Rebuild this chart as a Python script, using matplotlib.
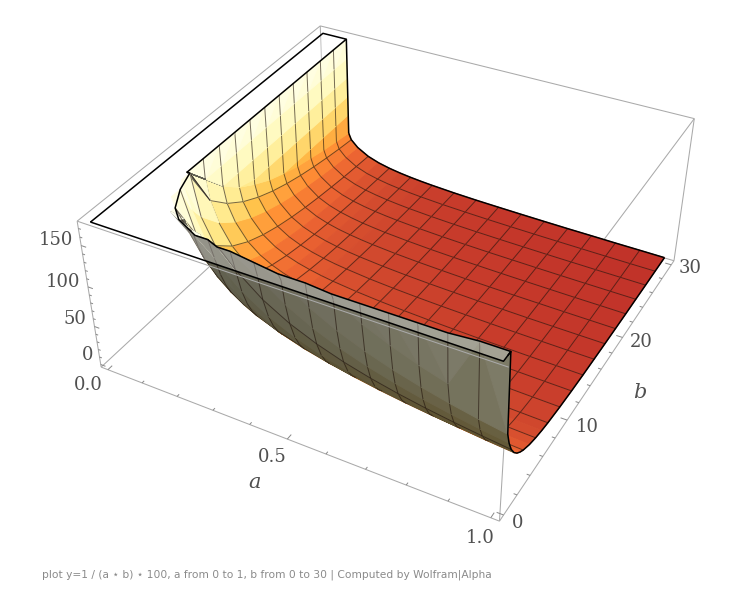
import numpy as np
import matplotlib
matplotlib.use("Agg")
import matplotlib.pyplot as plt
from matplotlib.colors import LinearSegmentedColormap
from mpl_toolkits.mplot3d.art3d import Poly3DCollection, Line3DCollection

# box limits of the plot
a_lim = [-0.02, 1.02]
b_lim = [-0.6, 30.6]
z_lim = [-3.5, 178.5]
z_clip = 175

# box corners as they sit in the picture, pixels from the top left
corner_ids = [(0, 0, 0), (1, 0, 0), (1, 1, 0), (0, 1, 0), (0, 0, 1), (1, 0, 1), (1, 1, 1), (0, 1, 1)]
corner_px = [(100.7, 365), (501.7, 521.7), (675, 258), (323, 163), (77.5, 221.7), (506.5, 368.5), (693, 120), (322.7, 23.3)]

# surface heights, one row per a value, one column per b value
a_vals = [0.0716, 0.0717, 0.0718, 0.0719, 0.0720, 0.0721, 0.08, 0.1, 0.1333, 0.1667, 0.2, 0.2333, 0.2667, 0.3, 0.3333,
          0.4, 0.4667, 0.5333, 0.6, 0.6667, 0.7333, 0.8, 0.8667, 0.9333, 1.0]
b_vals = [0.57, 0.8, 1, 1.3, 1.6, 2, 2.5, 3, 3.5, 4, 5, 6, 7, 8, 10, 12, 14, 16, 18, 20, 22, 24, 26, 28, 30]
T = 175
z_vals = [
    [T, T, T, T, T, T, T, T, T, T, T, T, T, T, T, T, T, T, T, T, T, T, T, T, T],
    [T, T, T, T, T, T, T, T, T, T, T, T, T, T, 150, 150, 150, 150, 150, 150, 150, 150, 150, 150, 150],
    [T, T, T, T, T, T, T, T, T, T, T, T, T, T, 150, 125, 125, 125, 125, 125, 125, 125, 125, 125, 125],
    [T, T, T, T, T, T, T, T, T, T, T, T, T, T, 150, 125, 107, 100, 100, 100, 100, 100, 100, 100, 100],
    [T, T, T, T, T, T, T, T, T, T, T, T, T, T, 150, 125, 107, 94, 83, 75, 75, 75, 75, 75, 75],
    [T, T, T, T, T, T, T, T, T, T, T, T, T, T, 150, 125, 107, 94, 83, 75, 68, 63, 58, 54, 50],
    [T, T, T, T, T, T, T, T, T, T, T, T, T, T, 125, 104.2, 89.3, 78.1, 69.4, 62.5, 56.8, 52.1, 48.1, 44.6, 41.7],
    [T, T, T, T, T, T, T, T, T, T, T, T, 142.9, 125, 100, 83.3, 71.4, 62.5, 55.6, 50, 45.5, 41.7, 38.5, 35.7, 33.3],
    [T, T, T, T, T, T, T, T, T, T, 150, 125, 107.1, 93.8, 75, 62.5, 53.6, 46.9, 41.7, 37.5, 34.1, 31.3, 28.8, 26.8, 25],
    [T, T, T, T, T, T, T, T, 171.4, 150, 120, 100, 85.7, 75, 60, 50, 42.9, 37.5, 33.3, 30, 27.3, 25, 23.1, 21.4, 20],
    [T, T, T, T, T, T, T, 166.7, 142.9, 125, 100, 83.3, 71.4, 62.5, 50, 41.7, 35.7, 31.3, 27.8, 25, 22.7, 20.8, 19.2, 17.9, 16.7],
    [T, T, T, T, T, T, 171.4, 142.9, 122.4, 107.1, 85.7, 71.4, 61.2, 53.6, 42.9, 35.7, 30.6, 26.8, 23.8, 21.4, 19.5, 17.9, 16.5, 15.3, 14.3],
    [T, T, T, T, T, T, 150, 125, 107.1, 93.8, 75, 62.5, 53.6, 46.9, 37.5, 31.3, 26.8, 23.4, 20.8, 18.8, 17, 15.6, 14.4, 13.4, 12.5],
    [T, T, T, T, T, 166.7, 133.3, 111.1, 95.2, 83.3, 66.7, 55.6, 47.6, 41.7, 33.3, 27.8, 23.8, 20.8, 18.5, 16.7, 15.2, 13.9, 12.8, 11.9, 11.1],
    [T, T, T, T, T, 150, 120, 100, 85.7, 75, 60, 50, 42.9, 37.5, 30, 25, 21.4, 18.8, 16.7, 15, 13.6, 12.5, 11.5, 10.7, 10],
    [T, T, T, T, 156.3, 125, 100, 83.3, 71.4, 62.5, 50, 41.7, 35.7, 31.3, 25, 20.8, 17.9, 15.6, 13.9, 12.5, 11.4, 10.4, 9.6, 8.9, 8.3],
    [T, T, T, 164.8, 133.9, 107.1, 85.7, 71.4, 61.2, 53.6, 42.9, 35.7, 30.6, 26.8, 21.4, 17.9, 15.3, 13.4, 11.9, 10.7, 9.7, 8.9, 8.2, 7.7, 7.1],
    [T, T, T, 144.2, 117.2, 93.8, 75, 62.5, 53.6, 46.9, 37.5, 31.3, 26.8, 23.4, 18.8, 15.6, 13.4, 11.7, 10.4, 9.4, 8.5, 7.8, 7.2, 6.7, 6.3],
    [T, T, 166.7, 128.2, 104.2, 83.3, 66.7, 55.6, 47.6, 41.7, 33.3, 27.8, 23.8, 20.8, 16.7, 13.9, 11.9, 10.4, 9.3, 8.3, 7.6, 6.9, 6.4, 6, 5.6],
    [T, T, 150, 115.4, 93.8, 75, 60, 50, 42.9, 37.5, 30, 25, 21.4, 18.8, 15, 12.5, 10.7, 9.4, 8.3, 7.5, 6.8, 6.3, 5.8, 5.4, 5],
    [T, T, 136.4, 104.9, 85.3, 68.2, 54.6, 45.5, 39, 34.1, 27.3, 22.7, 19.5, 17.1, 13.6, 11.4, 9.7, 8.5, 7.6, 6.8, 6.2, 5.7, 5.2, 4.9, 4.5],
    [T, T, 125, 96.2, 78.1, 62.5, 50, 41.7, 35.7, 31.3, 25, 20.8, 17.9, 15.6, 12.5, 10.4, 8.9, 7.8, 6.9, 6.3, 5.7, 5.2, 4.8, 4.5, 4.2],
    [T, T, 115.4, 88.8, 72.1, 57.7, 46.2, 38.5, 33, 28.8, 23.1, 19.2, 16.5, 14.4, 11.5, 9.6, 8.2, 7.2, 6.4, 5.8, 5.2, 4.8, 4.4, 4.1, 3.8],
    [T, T, T, 82.4, 66.9, 53.6, 42.8, 35.7, 30.6, 26.8, 21.4, 17.9, 15.3, 13.4, 10.7, 8.9, 7.7, 6.7, 6, 5.4, 4.9, 4.5, 4.1, 3.8, 3.6],
    [T, T, T, 76.9, 62.5, 50, 40, 33.3, 28.6, 25, 20, 16.7, 14.3, 12.5, 10, 8.3, 7.1, 6.3, 5.6, 5, 4.5, 4.2, 3.8, 3.6, 3.3],
]

# rows and columns of the table that carry a mesh line
mesh_rows = [6, 8, 10, 12, 14, 15, 16, 17, 18, 19, 20, 21, 22, 23]
mesh_cols = [5, 9, 11, 13, 14, 15, 16, 17, 18, 19, 20, 21, 22, 23]

# axis ticks
a_major = [0.0, 0.5, 1.0]
a_minor = [0.1, 0.2, 0.3, 0.4, 0.6, 0.7, 0.8, 0.9]
b_major = [0, 10, 20, 30]
b_minor = [2, 4, 6, 8, 12, 14, 16, 18, 22, 24, 26, 28]
z_major = [0, 50, 100, 150]
z_minor = [10, 20, 30, 40, 60, 70, 80, 90, 110, 120, 130, 140, 160, 170]

# colours against height
top_z = [0, 15, 30, 50, 75, 100, 140, 175]
top_rgb = ["#bc2c28", "#d24a2e", "#ec6432", "#ff8e34", "#ffc24a", "#ffe98a", "#fffbc4", "#ffffea"]
under_z = [0, 30, 60, 110, 175]
under_rgb = ["#4e3c1a", "#564722", "#605636", "#72705a", "#7e7c6c"]

W, H = 744, 612


def fit_camera():
    # 3x4 camera matrix from the eight corners, box coordinates -> pixels
    rows = []
    for (i, j, k), (u, v) in zip(corner_ids, corner_px):
        u, v = u / W, v / H
        X = [i, j, k, 1]
        rows.append(X + [0, 0, 0, 0] + [-u * c for c in X])
        rows.append([0, 0, 0, 0] + X + [-v * c for c in X])
    P = np.linalg.svd(np.array(rows))[2][-1].reshape(3, 4)
    if P[2] @ np.array([0.5, 0.5, 0.5, 1]) < 0:
        P = -P
    P = np.diag([W, H, 1.0]) @ P
    scale = np.array([[1 / (a_lim[1] - a_lim[0]), 0, 0, -a_lim[0] / (a_lim[1] - a_lim[0])],
                      [0, 1 / (b_lim[1] - b_lim[0]), 0, -b_lim[0] / (b_lim[1] - b_lim[0])],
                      [0, 0, 1 / (z_lim[1] - z_lim[0]), -z_lim[0] / (z_lim[1] - z_lim[0])],
                      [0, 0, 0, 1]])
    return P @ scale


P = fit_camera()
# camera position, used to pull the mesh lines a little towards the viewer
camera = np.linalg.svd(P)[2][-1]
camera = camera[:3] / camera[3]


def to_px(p):
    v = P @ np.array([p[0], p[1], p[2], 1.0])
    return v[:2] / v[2]


fig = plt.figure(figsize=(W / 100, H / 100), dpi=100)
# Axes3D keeps its box square, so make it a square that overhangs the figure
ax = fig.add_axes([0, (H - W) / 2 / H, 1, W / H], projection="3d")
ax.set_axis_off()
ax.computed_zorder = False


def get_proj():
    # pixels -> the 2d coordinates of the axes, then depth grows with distance
    inv = ax.transData.inverted()
    o = inv.transform((0, H))
    x1 = inv.transform((1, H))
    y1 = inv.transform((0, H - 1))
    A = np.array([[x1[0] - o[0], 0, o[0]], [0, y1[1] - o[1], o[1]], [0, 0, 1]])
    top = A @ P
    w = P[2]
    depth = w - np.array([0, 0, 0, w @ np.array([0.5, 15, 80, 1]) * 0.5])
    return np.vstack([top[0], top[1], depth, top[2]])


ax.get_proj = get_proj

a = np.array(a_vals)
b = np.array(b_vals)
z = np.array(z_vals, dtype=float)

top_cmap = LinearSegmentedColormap.from_list("top", [(v / 175, c) for v, c in zip(top_z, top_rgb)])
under_cmap = LinearSegmentedColormap.from_list("under", [(v / 175, c) for v, c in zip(under_z, under_rgb)])

quads = []
colors = []
edge_colors = []


def add_face(pts):
    # which side we look at follows from the winding in the picture
    xy = np.array([to_px(p) for p in pts])
    x, y = xy[:, 0], xy[:, 1]
    area = np.sum(x * np.roll(y, -1) - np.roll(x, -1) * y)
    height = np.mean([p[2] for p in pts])
    if area < 0:
        c = top_cmap(height / 175)
    else:
        r, g, bl, _ = under_cmap(height / 175)
        f = 0.75 + 0.3 * np.mean([p[0] for p in pts])
        c = (r * f, g * f, bl * f, 1)
    quads.append(list(pts) + [pts[-1]] * (4 - len(pts)))
    colors.append(c)
    edge_colors.append(c)


for i in range(len(a) - 1):
    for j in range(len(b) - 1):
        cell = [(a[i], b[j], z[i, j]), (a[i + 1], b[j], z[i + 1, j]), (a[i + 1], b[j + 1], z[i + 1, j + 1]), (a[i], b[j + 1], z[i, j + 1])]
        hs = [p[2] for p in cell]
        n_cut = sum(h >= z_clip for h in hs)
        k = int(np.argmin(hs))
        if n_cut == 4:
            continue
        if n_cut == 3:
            # only the corner below the cut is left of this cell
            add_face([cell[k], cell[(k + 1) % 4], cell[(k + 3) % 4]])
        elif n_cut == 2:
            add_face([cell[k], cell[(k + 1) % 4], cell[(k + 2) % 4]])
            add_face([cell[k], cell[(k + 2) % 4], cell[(k + 3) % 4]])
        else:
            add_face(cell)


def pulled(p, t=0.012):
    p = np.array(p, dtype=float)
    return tuple(p + t * (camera - p))


# mesh lines go in the same collection so the depth sort hides them
mesh_color = (0.13, 0.08, 0.05, 0.62)
for i in mesh_rows:
    for j in range(len(b) - 1):
        if min(z[i, j], z[i, j + 1]) < z_clip:
            p, q = pulled((a[i], b[j], z[i, j])), pulled((a[i], b[j + 1], z[i, j + 1]))
            quads.append([p, q, q, p])
            colors.append((0, 0, 0, 0))
            edge_colors.append(mesh_color)
for j in mesh_cols:
    for i in range(len(a) - 1):
        if min(z[i, j], z[i + 1, j]) < z_clip:
            p, q = pulled((a[i], b[j], z[i, j])), pulled((a[i + 1], b[j], z[i + 1, j]))
            quads.append([p, q, q, p])
            colors.append((0, 0, 0, 0))
            edge_colors.append(mesh_color)

surface = Poly3DCollection(quads, facecolors=colors, edgecolors=edge_colors, linewidths=0.7, zorder=3)
ax.add_collection3d(surface, autolim=False)

# the clipped part at the top of the plot, from the table
clip_a = [a[5]]
clip_b = [b[-1]]
for i in range(5, len(a)):
    j = np.where(z[i] >= z_clip)[0][-1]
    clip_a.append(a[i])
    clip_b.append(b[j])
plane = [(0, 0, z_clip), (0, 30, z_clip)] + [(x, y, z_clip) for x, y in zip(clip_a, clip_b)] + [(1, 0, z_clip)]
ax.add_collection3d(Poly3DCollection([plane], facecolors=(1, 1, 1, 0.3), edgecolors="none", zorder=4), autolim=False)


def draw_lines(lines, color, lw, zorder):
    ax.add_collection3d(Line3DCollection(lines, colors=color, linewidths=lw, zorder=zorder), autolim=False)


# black outlines
draw_lines([
    plane + [plane[0]],
    [(x, 30, h) for x, h in zip(a[5:], z[5:, -1])],
    [(1, y, h) for y, h in zip(b, z[-1])],
    [(a[5], 30, z_clip), (a[5], 30, z[5, -1])],
], "black", 1.1, 5)

a0, a1 = a_lim
b0, b1 = b_lim
z0, z1 = z_lim
box_color = "#aaaaaa"
# behind the surface
draw_lines([
    [(a0, b0, z0), (a0, b1, z0)],
    [(a0, b1, z0), (a1, b1, z0)],
    [(a0, b1, z0), (a0, b1, z1)],
    [(a1, b0, z0), (a1, b0, z1)],
    [(a1, b1, z1), (a1, b0, z1)],
], box_color, 0.75, 1)
# in front of it
draw_lines([
    [(a0, b0, z0), (a1, b0, z0)],
    [(a1, b0, z0), (a1, b1, z0)],
    [(a1, b1, z0), (a1, b1, z1)],
    [(a0, b0, z0), (a0, b0, z1)],
    [(a0, b0, z1), (a0, b1, z1)],
    [(a0, b1, z1), (a1, b1, z1)],
    [(a1, b0, z1), (a0, b0, z1)],
], box_color, 0.75, 6)

ticks = []
for t, ln in [(t, 0.5) for t in a_major] + [(t, 0.25) for t in a_minor]:
    ticks.append([(t, b0, z0), (t, b0 + ln, z0)])
for t, ln in [(t, 0.016) for t in b_major] + [(t, 0.008) for t in b_minor]:
    ticks.append([(a1, t, z0), (a1 - ln, t, z0)])
for t, ln in [(t, 0.014) for t in z_major] + [(t, 0.007) for t in z_minor]:
    ticks.append([(a0, b0, t), (a0 + ln, b0, t)])
draw_lines(ticks, "#888888", 0.7, 6)


def label(x, y, s, ha="center", **kw):
    fig.text(x / W, 1 - y / H, s, ha=ha, va="center", family="DejaVu Serif", color="#505050", **kw)


for x, y, s in [(88, 385, "0.0"), (272, 457, "0.5"), (480, 538, "1.0"),
                (518, 523, "0"), (587, 427, "10"), (641, 342, "20"), (690, 268, "30")]:
    label(x, y, s, size=13)
for x, y, s in [(73, 240, "150"), (80, 282, "100"), (86, 319, "50"), (93, 355, "0")]:
    label(x, y, s, ha="right", size=13)
label(255, 483, "a", size=15, style="italic")
label(640, 392, "b", size=15, style="italic")

fig.text(42 / W, 1 - 575 / H, "plot y=1 / (a \u22c6 b) \u22c6 100, a from 0 to 1, b from 0 to 30 | Computed by Wolfram|Alpha",
         ha="left", va="center", size=7.65, color="#8a8a8a", family="DejaVu Sans")

fig.savefig("out.png", dpi=100)
